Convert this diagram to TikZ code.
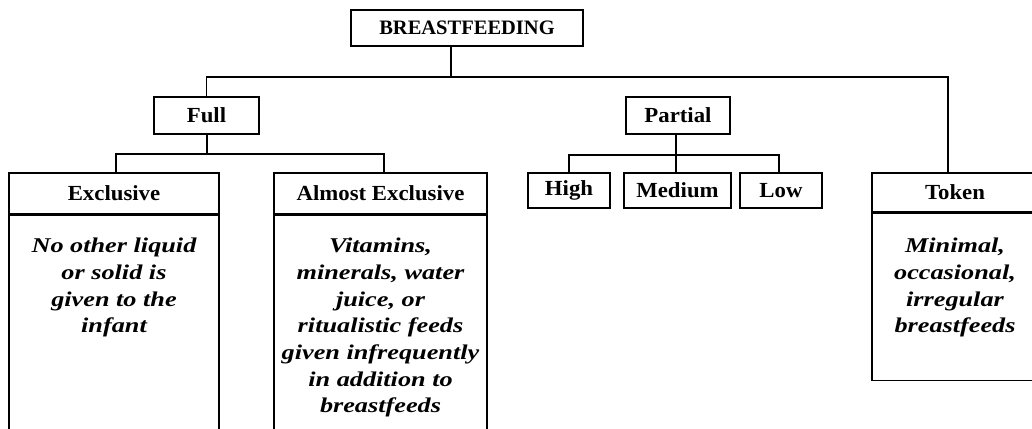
\documentclass[tikz,border=0pt]{standalone}
\usepackage{fontspec}
\setmainfont{Liberation Serif}
\newfontfamily\headfont[FakeStretch=1.06]{Liberation Serif}
\newfontfamily\notefont[FakeStretch=1.25]{Liberation Serif}

\begin{document}
\begin{tikzpicture}[x = 1pt, y = -1pt]
\tikzstyle{headStyle}=[draw, line width = 1.1pt, inner sep = 0pt, font = \fontsize{21.5}{25}\headfont\bfseries\selectfont]
\tikzstyle{titleStyle}=[headStyle, font = \fontsize{20.5}{25}\rmfamily\bfseries\selectfont]
\tikzstyle{frameStyle}=[draw, line width = 1.1pt, inner sep = 0pt, anchor = north]
\tikzstyle{noteStyle}=[inner sep = 0pt, align = center, anchor = north, font = \fontsize{21}{26.7}\notefont\bfseries\itshape\selectfont]
\tikzstyle{linkStyle}=[line width = 1.1pt]
\useasboundingbox (0,0) rectangle (1032,428);
\node[titleStyle, minimum width = 232pt, minimum height = 36pt] (root) at (467,28) {BREASTFEEDING};
\node[headStyle, minimum width = 105pt, minimum height = 37pt] (full) at (206.5,115.5) {Full};
\node[headStyle, minimum width = 104pt, minimum height = 37pt] (partial) at (678,115.5) {Partial};
\node[headStyle, minimum width = 82pt, minimum height = 35pt] (high) at (569,190.5) {High};
\node[headStyle, minimum width = 107pt, minimum height = 35pt] (medium) at (677.5,190.5) {Medium};
\node[headStyle, minimum width = 82pt, minimum height = 35pt] (low) at (781,190.5) {Low};
\node[headStyle, minimum width = 210pt, minimum height = 41pt] (exclusive) at (114,193.5) {Exclusive};
\node[headStyle, minimum width = 213pt, minimum height = 41pt] (almost) at (380.5,193.5) {Almost Exclusive};
\node[headStyle, minimum width = 166pt, minimum height = 39pt] (token) at (955,192.5) {Token};
\node[frameStyle, minimum width = 210pt, minimum height = 236pt] (exclusiveBody) at (exclusive.south) {};
\node[frameStyle, minimum width = 213pt, minimum height = 236pt] (almostBody) at (almost.south) {};
\node[frameStyle, minimum width = 166pt, minimum height = 167pt] (tokenBody) at (token.south) {};
\node[noteStyle] (exclusiveNote) at (114,238) {No other liquid\\or solid is\\given to the\\infant};
\node[noteStyle] (almostNote) at (380.5,238) {Vitamins,\\minerals, water\\juice, or\\ritualistic feeds\\given infrequently\\in addition to\\breastfeeds};
\node[noteStyle] (tokenNote) at (955,238) {Minimal,\\occasional,\\irregular\\breastfeeds};
\coordinate (rootBus) at (451,77);
\coordinate (fullBus) at (207,154);
\coordinate (partialBus) at (676,155);
\draw[linkStyle] (root.south -| rootBus) -- (rootBus);
\draw[linkStyle] (full.north) |- (rootBus) -| ([xshift = -7pt]token.north);
\draw[linkStyle] (full.south -| fullBus) -- (fullBus);
\draw[linkStyle] ([xshift = 2pt]exclusive.north) |- (fullBus) -| ([xshift = 3.5pt]almost.north);
\draw[linkStyle] (partial.south -| partialBus) -- (medium.north -| partialBus);
\draw[linkStyle] (high.north) |- (partialBus) -| ([xshift = -2pt]low.north);
\end{tikzpicture}
\end{document}
